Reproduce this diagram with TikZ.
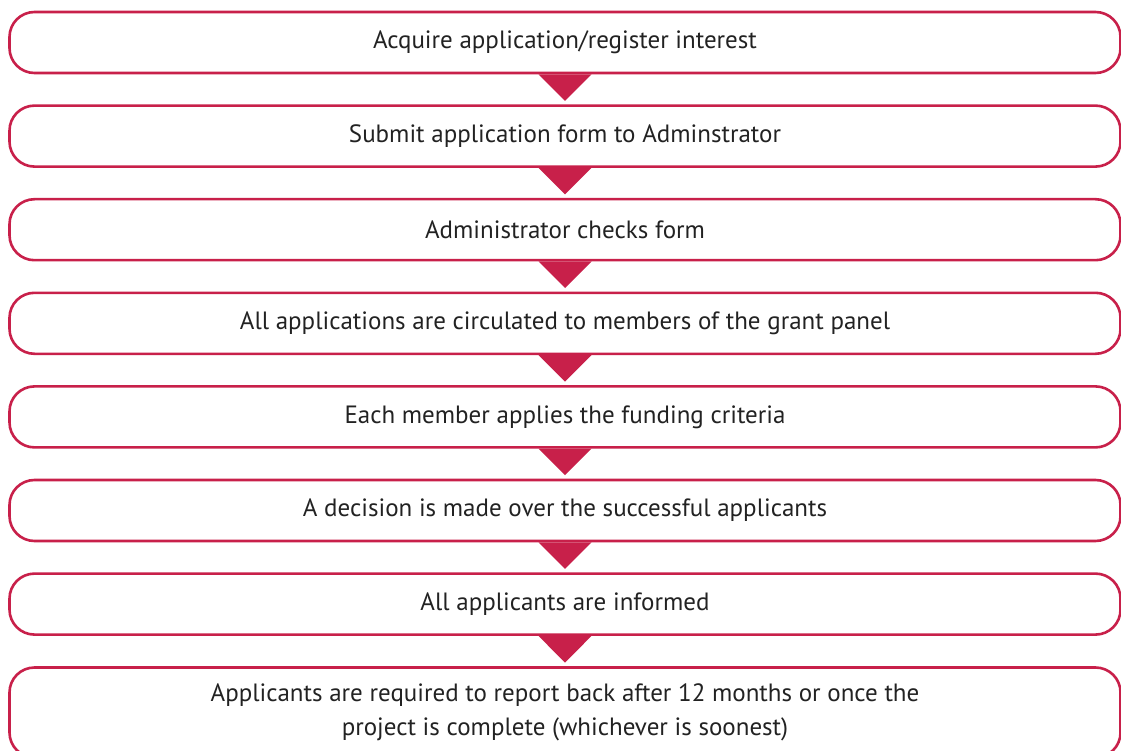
\documentclass[tikz,border=0pt]{standalone}
\usepackage{fontspec}
\setmainfont{PT Sans}

\definecolor{grantred}{HTML}{C8204A}
\definecolor{grantgrey}{HTML}{222222}

\begin{document}
\begin{tikzpicture}[x=1pt, y=-1pt,
        stage/.style={draw=grantred, line width=2.6pt, rounded corners=25pt,
            minimum width=1111pt, minimum height=61pt, inner sep=0pt,
            text=grantgrey, align=center, font=\fontsize{25}{34}\selectfont},
        chevron/.style={draw=none, fill=grantred,
            to path={([xshift=-26.5pt]\tikztostart.south)
                -- ([xshift=26.5pt]\tikztostart.south)
                -- ([yshift=3.5pt]\tikztotarget.north) -- cycle}}]
        \useasboundingbox (0,0) rectangle (1121,751);
        \clip (0,0) rectangle (1121,751);
        \node[stage] (s1) at (565, 42.5)  {Acquire application/register interest};
        \node[stage] (s2) at (565, 136.1) {Submit application form to Adminstrator};
        \node[stage] (s3) at (565, 229.7) {Administrator checks form};
        \node[stage] (s4) at (565, 323.3) {All applications are circulated to members of the grant panel};
        \node[stage] (s5) at (565, 416.9) {Each member applies the funding criteria};
        \node[stage] (s6) at (565, 510.5) {A decision is made over the successful applicants};
        \node[stage] (s7) at (565, 604.1) {All applicants are informed};
        \node[stage, minimum height=90pt] (s8) at (565, 712.5)
            {Applicants are required to report back after 12 months or once the\\
             project is complete (whichever is soonest)};
        \path (s1) edge[chevron] (s2)
              (s2) edge[chevron] (s3)
              (s3) edge[chevron] (s4)
              (s4) edge[chevron] (s5)
              (s5) edge[chevron] (s6)
              (s6) edge[chevron] (s7)
              (s7) edge[chevron] (s8);
    \end{tikzpicture}
\end{document}
